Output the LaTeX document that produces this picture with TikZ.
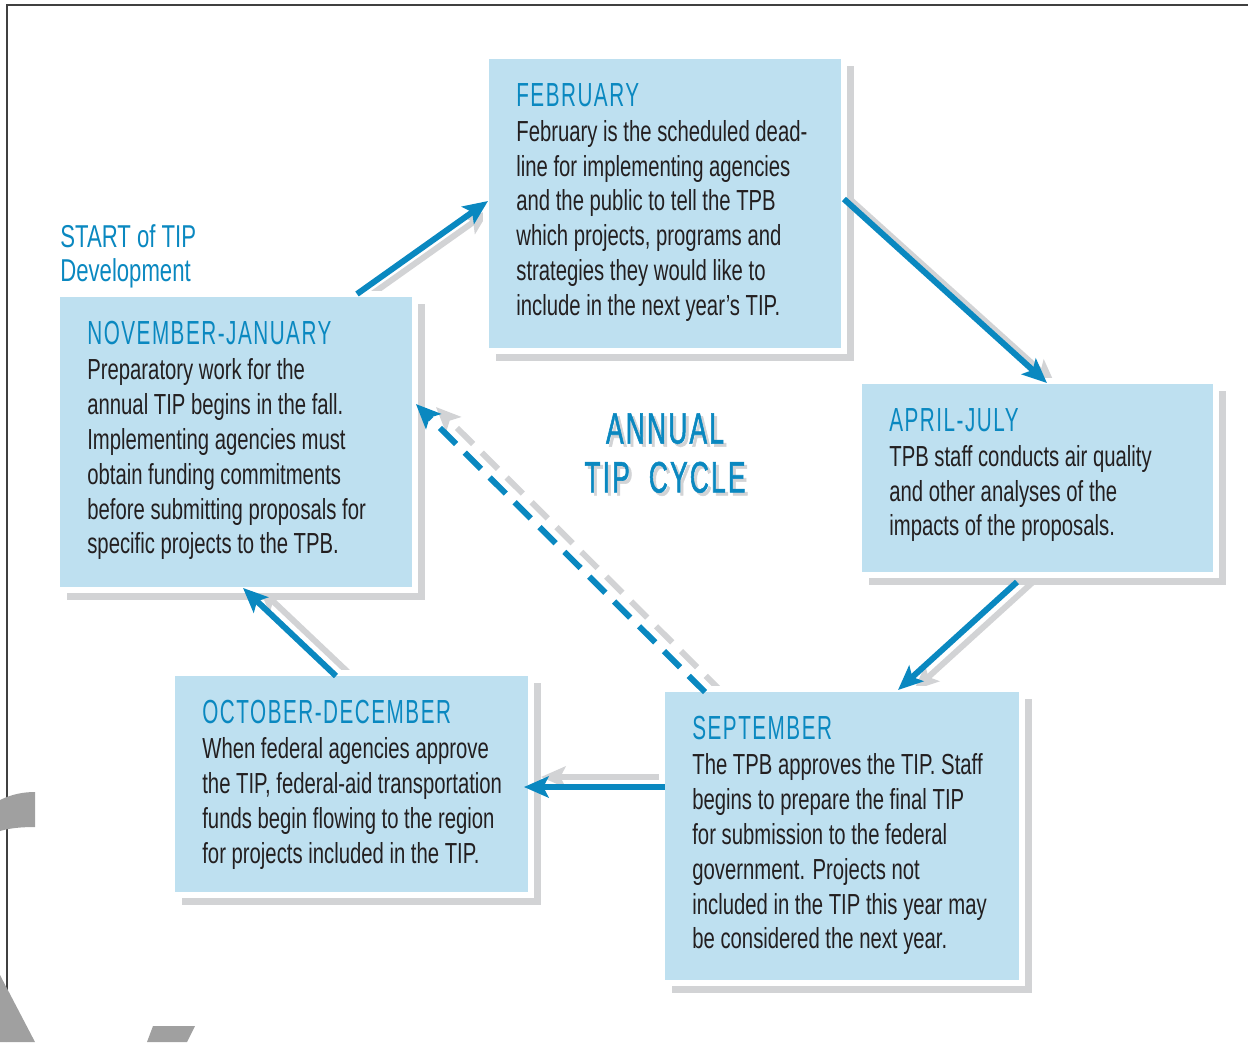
\documentclass[tikz,border=0pt]{standalone}
\usepackage{fontspec}
\setmainfont{Liberation Sans}[FakeStretch=0.7]
\newfontfamily\headfont{Liberation Sans}[FakeStretch=0.62,LetterSpace=4.5]
\newfontfamily\cyclefont{Liberation Sans}[FakeStretch=0.6,LetterSpace=5,FakeBold=1.2]
\usetikzlibrary{arrows.meta,calc,shadows,backgrounds}
\definecolor{tipblue}{HTML}{0A88C0}
\definecolor{tipfill}{HTML}{BEE0F0}
\definecolor{tipgray}{HTML}{D2D3D5}
\definecolor{tipink}{HTML}{231F20}
\definecolor{markgray}{HTML}{A0A0A0}
\definecolor{framegray}{HTML}{404040}
\newcommand\stagetitle[1]{{\headfont\fontsize{19}{19.85}\selectfont\color{tipblue}#1}}
\tikzset{
  stage/.style={rectangle, fill=tipfill, draw=white, line width=3pt, anchor=north west,
    inner sep=0pt, outer sep=0pt,
    general shadow={fill=tipgray, shadow xshift=0.2cm, shadow yshift=-0.2cm}},
  stagetext/.style={anchor=north west, inner sep=0pt, align=left, text=tipink,
    font=\fontsize{16.5}{19.85}\selectfont},
  flow/.style={color=tipblue, line width=3.4pt, -{Stealth[length=14pt,width=12pt,inset=3pt]}},
  flowshade/.style={flow, color=tipgray},
  later/.style={dash pattern=on 13pt off 7pt}
}
\begin{document}
\begin{tikzpicture}[x=0.02cm,y=-0.02cm]
  \useasboundingbox (0,0) rectangle (1248,1042);
  \draw[framegray, line width=1pt] (7,1042) -- (7,5) -- (1248,5);
  \fill[markgray] (0,800) .. controls (12,794) and (24,792) .. (35,792) -- (35,827)
    .. controls (22,827) and (10,828) .. (0,831) -- cycle;
  \fill[markgray] (0,975) -- (35,1042) -- (0,1042) -- cycle;
  \fill[markgray] (153,1026) -- (195,1026) -- (187,1042) -- (147,1042) -- cycle;

  \node[stage, minimum width=7.16cm, minimum height=5.9cm] (feb) at (486,56) {};
  \node[stage, minimum width=7.16cm, minimum height=5.92cm] (nov) at (57,294) {};
  \node[stage, minimum width=7.14cm, minimum height=3.88cm] (apr) at (859,381) {};
  \node[stage, minimum width=7.18cm, minimum height=4.44cm] (oct) at (172,673) {};
  \node[stage, minimum width=7.2cm, minimum height=5.88cm] (sep) at (662,689) {};

  \node[stagetext] (febtext) at ($(feb.north west)+(30,27)$) {\stagetitle{FEBRUARY}\\
    February is the scheduled dead-\\line for implementing agencies\\
    and the public to tell the TPB\\which projects, programs and\\
    strategies they would like to\\include in the next year’s TIP.};
  \node[stagetext] (novtext) at ($(nov.north west)+(30,27)$) {\stagetitle{NOVEMBER-JANUARY}\\
    Preparatory work for the\\annual TIP begins in the fall.\\
    Implementing agencies must\\obtain funding commitments\\
    before submitting proposals for\\specific projects to the TPB.};
  \node[stagetext] (aprtext) at ($(apr.north west)+(30,27)$) {\stagetitle{APRIL-JULY}\\
    TPB staff conducts air quality\\and other analyses of the\\
    impacts of the proposals.};
  \node[stagetext] (octtext) at ($(oct.north west)+(30,27)$) {\stagetitle{OCTOBER-DECEMBER}\\
    When federal agencies approve\\the TIP, federal-aid transportation\\
    funds begin flowing to the region\\for projects included in the TIP.};
  \node[stagetext] (septext) at ($(sep.north west)+(30,27)$) {\stagetitle{SEPTEMBER}\\
    The TPB approves the TIP. Staff\\begins to prepare the final TIP\\
    for submission to the federal\\government. Projects not\\
    included in the TIP this year may\\be considered the next year.};

  \node[anchor=north west, inner sep=0pt, align=left, text=tipblue,
    font=\fontsize{18}{19.3}\selectfont] (start) at (60,224) {START of TIP\\Development};
  \node[anchor=north, inner sep=0pt, align=center, text=tipgray,
    font=\cyclefont\fontsize{25}{27.8}\selectfont] (cycleshade) at (668,416) {ANNUAL\\TIP\ \ CYCLE};
  \node[anchor=north, inner sep=0pt, align=center, text=tipblue,
    font=\cyclefont\fontsize{25}{27.8}\selectfont] (cycle) at (665,413) {ANNUAL\\TIP\ \ CYCLE};

  \begin{scope}[on background layer]
    \draw[flowshade] ($(nov.north west)+(315,0)$) -- ($(feb.north west)+(3,155)$);
    \draw[flowshade] ($(feb.north east)+(7,144)$) -- ($(apr.north west)+(196,3)$);
    \draw[flowshade] ($(apr.south west)+(174,7)$) -- ($(sep.north west)+(252,1)$);
    \draw[flowshade] ($(sep.north west)+(3,88)$) -- ($(oct.north east)+(10,104)$);
    \draw[flowshade] ($(oct.north west)+(180,3)$) -- ($(nov.south west)+(202,-2)$);
    \draw[flowshade, later] ($(sep.north west)+(60,3)$) -- ($(nov.north east)+(21,113)$);
  \end{scope}

  \draw[flow] ($(nov.north west)+(300,0)$) -- ($(feb.north west)+(2,145)$);
  \draw[flow] ($(feb.north east)+(0,143)$) -- ($(apr.north west)+(188,2)$);
  \draw[flow] ($(apr.south west)+(158,7)$) -- ($(sep.north west)+(236,1)$);
  \draw[flow] ($(sep.north west)+(3,98)$) -- ($(oct.north east)+(-7,114)$);
  \draw[flow] ($(oct.north west)+(164,3)$) -- ($(nov.south west)+(186,-2)$);
  \draw[flow, later] ($(sep.north west)+(43,3)$) -- ($(nov.north east)+(1,110)$);
\end{tikzpicture}
\end{document}
